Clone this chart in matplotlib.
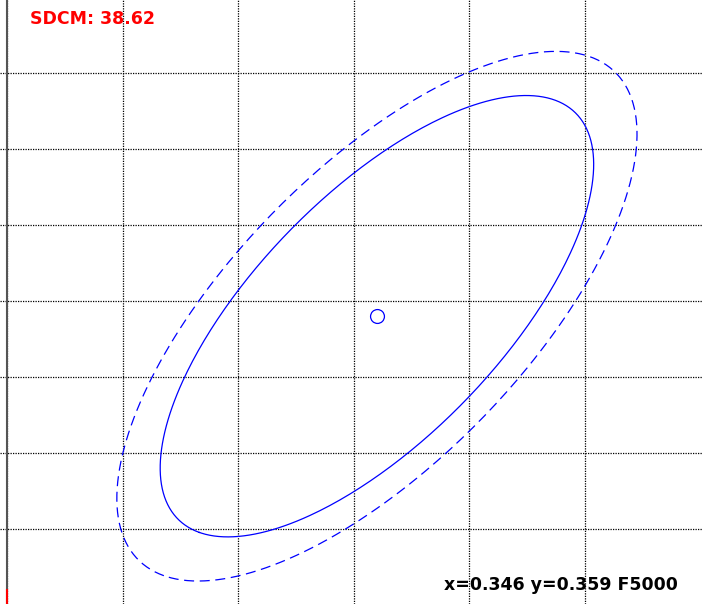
import numpy as np
import matplotlib
matplotlib.use("Agg")
import matplotlib.pyplot as plt

# chromaticity point and ellipse metric (g11, g12, g22)
center_xy = [0.346, 0.359]
g11, g12, g22 = 21604.0, -9597.0, 9007.0
ellipse_scales = [1.0, 1.2]
ellipse_styles = ["-", "--"]

sdcm_value = 38.62
cct_label = "F5000"

x_grid = [0.330, 0.335, 0.340, 0.345, 0.350, 0.355]
y_grid = [0.345, 0.350, 0.355, 0.360, 0.365, 0.370, 0.375]


def ellipse_points(cx, cy, k, n=400):
    # points where g11 dx^2 + 2 g12 dx dy + g22 dy^2 = k^2
    G = np.array([[g11, g12], [g12, g22]])
    vals, vecs = np.linalg.eigh(G)
    t = np.linspace(0, 2 * np.pi, n)
    circ = np.vstack([np.cos(t) / np.sqrt(vals[0]), np.sin(t) / np.sqrt(vals[1])])
    pts = vecs @ circ * k
    return cx + pts[0], cy + pts[1]


fig = plt.figure(figsize=(7.02, 6.04), dpi=100)
ax = fig.add_axes([0, 0, 1, 1])
ax.set_xlim(0.329697, 0.360060)
ax.set_ylim(0.340066, 0.379803)
ax.axis("off")

for gx in x_grid:
    ax.axvline(gx, color="black", lw=0.9, ls=(0, (1, 1)), zorder=1)
for gy in y_grid:
    ax.axhline(gy, color="black", lw=0.9, ls=(0, (1, 1)), zorder=1)

# left edge line and red marker
ax.axvline(x_grid[0], color="#555555", lw=1.5, zorder=2)
ax.plot([x_grid[0], x_grid[0]], [0.340066, 0.341], color="red", lw=1.5, zorder=3)

for k, ls in zip(ellipse_scales, ellipse_styles):
    ex, ey = ellipse_points(center_xy[0], center_xy[1], k)
    if ls == "--":
        ax.plot(ex, ey, color="blue", lw=0.9, ls=(0, (8, 4.5)), zorder=4)
    else:
        ax.plot(ex, ey, color="blue", lw=0.9, zorder=4)

ax.plot(center_xy[0], center_xy[1], "o", ms=10, mfc="none", mec="blue", mew=0.9, zorder=5)

fig.text(30 / 702, 1 - 10 / 604, f"SDCM: {sdcm_value:.2f}", color="red", fontsize=12.5,
         fontweight="bold", ha="left", va="top")
fig.text(678 / 702, 1 - 590 / 604,
         f"x={center_xy[0]:.3f} y={center_xy[1]:.3f} {cct_label}",
         color="black", fontsize=12.5, fontweight="bold", ha="right", va="baseline")

fig.savefig("out.png", dpi=100)
